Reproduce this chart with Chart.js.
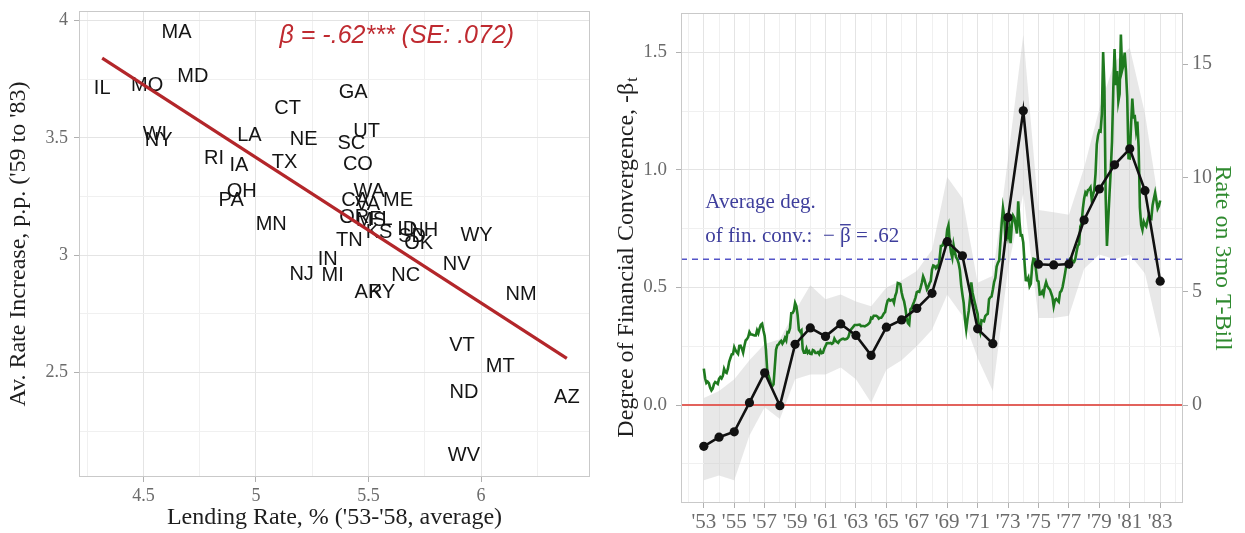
<!DOCTYPE html>
<html>
<head>
<meta charset="utf-8">
<script src="https://cdn.jsdelivr.net/npm/chart.js@4/dist/chart.umd.min.js"></script>
<style>
  html, body { margin: 0; padding: 0; background: #ffffff; }
  #wrap { position: relative; width: 1245px; height: 533px; overflow: hidden; }
  #c1 { position: absolute; left: 0; top: 0; }
  #c2 { position: absolute; left: 600px; top: 0; }
</style>
</head>
<body>
<div id="wrap">
  <canvas id="c1" width="600" height="533"></canvas>
  <canvas id="c2" width="645" height="533"></canvas>
</div>
<script>
// ---------- Left panel: state lending rates ('53-'58) vs. later rate increase ----------
const states = ['MA','IL','MO','MD','GA','CT','UT','SC','LA','NE','WI','NY','RI','IA','TX','CO','OH','PA','MN','NJ',
                'AR','KY','NM','VT','MT','ND','AZ','WV','WA','ME','CA','VA','OR','FL','MS','KS','TN','ID','NH','SD',
                'OK','WY','NV','NC','IN','MI'];
const lendingRate = [4.647,4.317,4.517,4.720,5.432,5.141,5.492,5.424,4.971,5.212,4.551,4.568,4.814,4.924,5.127,5.453,4.937,4.890,5.068,5.203,
                     5.500,5.559,6.178,5.915,6.085,5.924,6.381,5.924,5.503,5.631,5.441,5.496,5.437,5.555,5.511,5.547,5.415,5.672,5.745,5.694,
                     5.723,5.980,5.892,5.665,5.319,5.341];
const rateIncrease = [3.950,3.711,3.725,3.762,3.694,3.626,3.526,3.474,3.512,3.492,3.516,3.488,3.410,3.384,3.395,3.388,3.270,3.232,3.132,2.920,
                      2.841,2.841,2.834,2.614,2.526,2.415,2.393,2.146,3.270,3.232,3.232,3.218,3.161,3.154,3.146,3.097,3.065,3.111,3.107,3.080,
                      3.050,3.085,2.962,2.915,2.983,2.912];
// fitted OLS line, drawn over the range of lending rates
const fitX = [4.317, 6.381];
const fitY = [3.839, 2.561];
const betaNote = 'β = -.62*** (SE: .072)';

const leftXMajor = [4.5, 5, 5.5, 6];
const leftXLabels = ['4.5', '5', '5.5', '6'];
const leftXMinor = [4.25, 4.75, 5.25, 5.75, 6.25];
const leftYMajor = [2.5, 3, 3.5, 4];
const leftYLabels = ['2.5', '3', '3.5', '4'];
const leftYMinor = [2.25, 2.75, 3.25, 3.75];

// ---------- Right panel: yearly convergence coefficient and the 3-month T-bill rate ----------
const years = [1953,1954,1955,1956,1957,1958,1959,1960,1961,1962,1963,1964,1965,1966,1967,1968,
               1969,1970,1971,1972,1973,1974,1975,1976,1977,1978,1979,1980,1981,1982,1983];
const betaT  = [-0.176,-0.137,-0.114,0.010,0.137,-0.003,0.258,0.328,0.292,0.345,0.296,0.211,0.331,0.362,0.411,0.475,
                0.695,0.635,0.324,0.261,0.798,1.252,0.599,0.596,0.600,0.787,0.919,1.022,1.090,0.912,0.527];
const betaLo = [-0.32,-0.30,-0.32,-0.13,-0.01,-0.06,0.11,0.13,0.13,0.16,0.11,0.01,0.15,0.19,0.25,0.32,
                0.47,0.38,0.20,0.06,0.58,0.90,0.37,0.37,0.38,0.58,0.64,0.62,0.64,0.56,0.28];
const betaHi = [0.03,0.06,0.11,0.19,0.26,0.28,0.40,0.51,0.45,0.47,0.44,0.42,0.50,0.53,0.57,0.66,
                0.97,0.88,0.52,0.55,1.05,1.575,0.83,0.82,0.81,1.01,1.26,1.46,1.52,1.24,0.82];
const avgBeta = 0.62;

// monthly 3-month T-bill rate, %, first observation at the '53 tick
const tbillStart = 1953;
const tbill3mo = [
  1.60,
  1.18,0.97,1.03,0.96,0.76,0.64,0.72,0.92,1.01,0.98,0.93,1.15,
  1.23,1.17,1.28,1.59,1.45,1.41,1.60,1.90,2.07,2.23,2.24,2.54,
  2.41,2.32,2.25,2.60,2.61,2.49,2.31,2.60,2.84,2.90,2.99,3.21,
  3.11,3.10,3.08,3.06,3.06,3.29,3.16,3.37,3.53,3.58,3.29,3.04,
  2.44,1.53,1.30,1.13,0.91,0.83,0.91,1.69,2.44,2.63,2.67,2.77,
  2.82,2.70,2.80,2.95,2.84,3.21,3.20,3.38,4.04,4.05,4.15,4.49,
  4.35,3.96,3.31,3.23,3.29,2.46,2.30,2.30,2.48,2.30,2.37,2.25,
  2.24,2.42,2.39,2.29,2.29,2.33,2.24,2.39,2.28,2.30,2.48,2.60,
  2.72,2.73,2.72,2.73,2.69,2.73,2.92,2.82,2.78,2.74,2.83,2.87,
  2.91,2.92,2.89,2.90,2.92,2.99,3.18,3.32,3.38,3.45,3.52,3.52,
  3.52,3.53,3.54,3.47,3.48,3.48,3.46,3.50,3.53,3.57,3.64,3.84,
  3.81,3.93,3.93,3.93,3.89,3.80,3.84,3.84,3.92,4.03,4.09,4.38,
  4.59,4.65,4.59,4.62,4.64,4.50,4.80,4.96,5.37,5.35,5.32,4.96,
  4.72,4.56,4.26,3.84,3.60,3.54,4.21,4.27,4.42,4.56,4.73,4.97,
  5.00,4.98,5.17,5.38,5.66,5.52,5.31,5.09,5.19,5.35,5.45,5.96,
  6.14,6.12,6.02,6.11,6.04,6.44,7.00,7.01,7.13,7.04,7.19,7.72,
  7.91,7.16,6.71,6.48,7.04,6.74,6.50,6.41,6.24,5.93,5.29,4.86,
  4.49,3.77,3.32,3.78,4.14,4.70,5.40,4.94,4.69,4.46,4.22,4.01,
  3.38,3.20,3.73,3.71,3.69,3.91,3.98,4.02,4.66,4.74,4.78,5.07,
  5.41,5.60,6.09,6.26,6.36,7.19,8.01,8.67,8.29,7.22,7.83,7.45,
  7.77,7.12,7.96,8.33,8.23,7.90,7.55,8.96,8.06,7.46,7.47,7.15,
  6.26,5.50,5.49,5.61,5.23,5.34,6.13,6.44,6.42,5.96,5.48,5.44,
  4.87,4.88,5.00,4.86,5.20,5.41,5.23,5.14,5.08,4.92,4.75,4.35,
  4.62,4.67,4.60,4.54,4.96,5.02,5.19,5.49,5.81,6.16,6.10,6.07,
  6.44,6.45,6.29,6.29,6.41,6.73,7.01,7.08,7.85,7.99,8.64,9.08,
  9.35,9.27,9.46,9.49,9.58,9.05,9.26,9.45,10.18,11.47,11.87,12.07,
  12.04,12.81,15.53,14.00,9.15,7.00,8.13,9.26,10.32,11.58,13.89,15.66,
  14.08,14.70,13.36,13.69,16.30,14.73,14.95,15.51,14.70,13.54,10.86,10.85,
  12.28,13.48,12.68,12.70,12.09,12.47,11.35,8.68,7.92,7.71,8.07,7.94,
  7.86,8.11,8.35,8.21,8.19,8.79,9.08,9.34,9.00,8.64,8.76,9.00
];

const yearTicks  = [1953,1955,1957,1959,1961,1963,1965,1967,1969,1971,1973,1975,1977,1979,1981,1983];
const yearLabels = ["'53","'55","'57","'59","'61","'63","'65","'67","'69","'71","'73","'75","'77","'79","'81","'83"];
const yearMinor  = [1952,1954,1956,1958,1960,1962,1964,1966,1968,1970,1972,1974,1976,1978,1980,1982,1984];
const betaTicks  = [0, 0.5, 1.0, 1.5];
const betaLabels = ['0.0', '0.5', '1.0', '1.5'];
const betaMinor  = [-0.25, 0.25, 0.75, 1.25];
const rateTicks  = [0, 5, 10, 15];
const rateLabels = ['0', '5', '10', '15'];

// ---------- shared styling ----------
const SERIF = '"Liberation Serif", "Times New Roman", serif';
const SANS = '"Liberation Sans", Arial, sans-serif';
const GRID_MAJOR = '#e4e4e4';
const GRID_MINOR = '#f0f0f0';
const TICK_MARK = '#b0b0b0';
const TICK_TEXT = '#6b6b6b';

function findLabel(values, labels, v) {
  const i = values.findIndex(t => Math.abs(t - v) < 1e-9);
  return i < 0 ? '' : labels[i];
}
function isMajor(values, v) {
  return values.some(t => Math.abs(t - v) < 1e-9);
}
function tickSetter(list) {
  return scale => { scale.ticks = list.slice().sort((a, b) => a - b).map(v => ({ value: v })); };
}
// fixed axis box size, with no extra room reserved for edge labels
function fixSize(prop, size) {
  return s => {
    s[prop] = size;
    s.paddingTop = 0; s.paddingBottom = 0; s.paddingLeft = 0; s.paddingRight = 0;
  };
}
function gridFor(major) {
  return {
    color: c => (c.tick && isMajor(major, c.tick.value)) ? GRID_MAJOR : GRID_MINOR,
    lineWidth: 1,
    tickLength: 5,
    tickColor: c => (c.tick && isMajor(major, c.tick.value)) ? TICK_MARK : 'rgba(0,0,0,0)'
  };
}
function panelBorder(chart) {
  const a = chart.chartArea, ctx = chart.ctx;
  ctx.save();
  ctx.strokeStyle = '#c9c9c9';
  ctx.lineWidth = 1;
  ctx.strokeRect(Math.round(a.left) + 0.5, Math.round(a.top) + 0.5,
                 Math.round(a.right - a.left) - 1, Math.round(a.bottom - a.top) - 1);
  ctx.restore();
}

// ---------- left chart ----------
const leftPlugin = {
  id: 'leftDecor',
  beforeDatasetsDraw(chart) {
    // state abbreviations at their observations (under the fitted line)
    const ctx = chart.ctx;
    const meta = chart.getDatasetMeta(0);
    ctx.save();
    ctx.font = '20px ' + SANS;
    ctx.fillStyle = '#141414';
    ctx.textAlign = 'center';
    ctx.textBaseline = 'middle';
    meta.data.forEach((pt, i) => ctx.fillText(states[i], pt.x, pt.y));
    ctx.restore();
  },
  afterDraw(chart) {
    const ctx = chart.ctx, a = chart.chartArea;
    const sx = chart.scales.x, sy = chart.scales.y;
    panelBorder(chart);
    ctx.save();
    // slope annotation
    ctx.font = 'italic 25px ' + SANS;
    ctx.fillStyle = '#bf2a30';
    ctx.textAlign = 'center';
    ctx.textBaseline = 'middle';
    ctx.fillText(betaNote, sx.getPixelForValue(5.626), sy.getPixelForValue(3.935));
    // axis titles
    ctx.fillStyle = '#1e1e1e';
    ctx.font = '24px ' + SERIF;
    ctx.fillText("Lending Rate, % ('53-'58, average)", (a.left + a.right) / 2, 518);
    ctx.translate(19, (a.top + a.bottom) / 2);
    ctx.rotate(-Math.PI / 2);
    ctx.fillText("Av. Rate Increase, p.p. ('59 to '83)", 0, 0);
    ctx.restore();
  }
};

new Chart(document.getElementById('c1'), {
  type: 'scatter',
  data: {
    datasets: [
      {
        data: states.map((s, i) => ({ x: lendingRate[i], y: rateIncrease[i] })),
        pointRadius: 0,
        pointHoverRadius: 0,
        showLine: false
      },
      {
        type: 'line',
        data: fitX.map((x, i) => ({ x: x, y: fitY[i] })),
        borderColor: '#b3262a',
        borderWidth: 3.2,
        pointRadius: 0,
        fill: false
      }
    ]
  },
  options: {
    responsive: false,
    devicePixelRatio: 1,
    animation: false,
    events: [],
    layout: { padding: { top: 11, right: 10, left: 0, bottom: 0 } },
    plugins: { legend: { display: false }, tooltip: { enabled: false } },
    scales: {
      x: {
        type: 'linear', min: 4.214, max: 6.484,
        afterBuildTicks: tickSetter(leftXMajor.concat(leftXMinor)),
        afterFit: fixSize('height', 56),
        grid: gridFor(leftXMajor),
        border: { display: false },
        ticks: {
          autoSkip: false, maxRotation: 0, padding: 3,
          color: TICK_TEXT, font: { family: SERIF, size: 18 },
          callback: v => findLabel(leftXMajor, leftXLabels, v)
        }
      },
      y: {
        type: 'linear', min: 2.056, max: 4.040,
        afterBuildTicks: tickSetter(leftYMajor.concat(leftYMinor)),
        afterFit: fixSize('width', 79),
        grid: gridFor(leftYMajor),
        border: { display: false },
        ticks: {
          autoSkip: false, padding: 6,
          color: TICK_TEXT, font: { family: SERIF, size: 18 },
          callback: v => findLabel(leftYMajor, leftYLabels, v)
        }
      }
    }
  },
  plugins: [leftPlugin]
});

// ---------- right chart ----------
const X_MIN = 1951.5, X_MAX = 1984.5;

const rightPlugin = {
  id: 'rightDecor',
  afterDraw(chart) {
    const ctx = chart.ctx, a = chart.chartArea;
    const sx = chart.scales.x, sy = chart.scales.y;
    panelBorder(chart);
    ctx.save();
    // note on the average coefficient
    ctx.fillStyle = '#3e3e9c';
    ctx.font = '21px ' + SERIF;
    ctx.textAlign = 'left';
    ctx.textBaseline = 'middle';
    const x0 = sx.getPixelForValue(1953.1);
    const y1 = sy.getPixelForValue(0.862), y2 = sy.getPixelForValue(0.716);
    ctx.fillText('Average deg.', x0, y1);
    const partA = 'of fin. conv.:  \u2212 ';
    ctx.fillText(partA, x0, y2);
    let cx = x0 + ctx.measureText(partA).width;
    const bw = ctx.measureText('\u03b2').width;
    ctx.fillText('\u03b2', cx, y2);
    ctx.strokeStyle = '#3e3e9c';
    ctx.lineWidth = 1.4;
    ctx.beginPath();
    ctx.moveTo(cx, y2 - 12);
    ctx.lineTo(cx + bw, y2 - 12);
    ctx.stroke();
    cx += bw;
    ctx.fillText(' = .62', cx, y2);

    // left axis title with subscript t
    ctx.fillStyle = '#1e1e1e';
    const main = 'Degree of Financial Convergence, -\u03b2';
    ctx.font = '24px ' + SERIF;
    const wMain = ctx.measureText(main).width;
    ctx.font = '16px ' + SERIF;
    const wSub = ctx.measureText('t').width;
    const cy = (a.top + a.bottom) / 2;
    ctx.save();
    ctx.translate(27, cy);
    ctx.rotate(-Math.PI / 2);
    ctx.textAlign = 'left';
    ctx.textBaseline = 'middle';
    ctx.font = '24px ' + SERIF;
    const start = -(wMain + wSub) / 2;
    ctx.fillText(main, start, 0);
    ctx.font = '16px ' + SERIF;
    ctx.fillText('t', start + wMain + 1, 6);
    ctx.restore();

    // right axis title
    ctx.save();
    ctx.fillStyle = '#2f8a2f';
    ctx.font = '24px ' + SERIF;
    ctx.textAlign = 'center';
    ctx.textBaseline = 'middle';
    ctx.translate(622, cy);
    ctx.rotate(Math.PI / 2);
    ctx.fillText('Rate on 3mo T-Bill', 0, 0);
    ctx.restore();
    ctx.restore();
  }
};

new Chart(document.getElementById('c2'), {
  type: 'line',
  data: {
    datasets: [
      {
        // yearly coefficient
        data: years.map((yr, i) => ({ x: yr, y: betaT[i] })),
        borderColor: '#111111',
        backgroundColor: '#111111',
        borderWidth: 2.6,
        pointRadius: 4.6,
        pointBorderWidth: 0,
        yAxisID: 'y',
        order: 0
      },
      {
        // monthly T-bill rate on the secondary axis
        data: tbill3mo.map((r, i) => ({ x: tbillStart + i / 12, y: r })),
        borderColor: '#1f7a1f',
        borderWidth: 2.6,
        pointRadius: 0,
        yAxisID: 'y2',
        order: 1
      },
      {
        data: [{ x: X_MIN, y: avgBeta }, { x: X_MAX, y: avgBeta }],
        borderColor: '#5454c8',
        borderWidth: 1.6,
        borderDash: [6, 5],
        pointRadius: 0,
        yAxisID: 'y',
        order: 2
      },
      {
        data: [{ x: X_MIN, y: 0 }, { x: X_MAX, y: 0 }],
        borderColor: '#e2625c',
        borderWidth: 2.2,
        pointRadius: 0,
        yAxisID: 'y',
        order: 2
      },
      {
        // confidence band: lower edge
        data: years.map((yr, i) => ({ x: yr, y: betaLo[i] })),
        borderWidth: 0,
        borderColor: 'rgba(0,0,0,0)',
        pointRadius: 0,
        yAxisID: 'y',
        order: 4
      },
      {
        // confidence band: upper edge, filled down to the lower edge
        data: years.map((yr, i) => ({ x: yr, y: betaHi[i] })),
        borderWidth: 0,
        borderColor: 'rgba(0,0,0,0)',
        backgroundColor: 'rgba(200,200,200,0.42)',
        pointRadius: 0,
        fill: '-1',
        yAxisID: 'y',
        order: 3
      }
    ]
  },
  options: {
    responsive: false,
    devicePixelRatio: 1,
    animation: false,
    events: [],
    layout: { padding: { top: 13, right: 0, left: 0, bottom: 0 } },
    plugins: { legend: { display: false }, tooltip: { enabled: false } },
    scales: {
      x: {
        type: 'linear', min: X_MIN, max: X_MAX,
        afterBuildTicks: tickSetter(yearTicks.concat(yearMinor)),
        afterFit: fixSize('height', 30),
        grid: gridFor(yearTicks),
        border: { display: false },
        ticks: {
          autoSkip: false, maxRotation: 0, padding: 2,
          color: TICK_TEXT, font: { family: SERIF, size: 21 },
          callback: v => findLabel(yearTicks, yearLabels, v)
        }
      },
      y: {
        type: 'linear', position: 'left', min: -0.417, max: 1.668,
        afterBuildTicks: tickSetter(betaTicks.concat(betaMinor)),
        afterFit: fixSize('width', 81),
        grid: gridFor(betaTicks),
        border: { display: false },
        ticks: {
          autoSkip: false, padding: 9,
          color: TICK_TEXT, font: { family: SERIF, size: 19 },
          callback: v => findLabel(betaTicks, betaLabels, v)
        }
      },
      y2: {
        // secondary rate axis, about 10.34 rate points per unit of the coefficient
        type: 'linear', position: 'right', min: -4.31, max: 17.25,
        afterBuildTicks: tickSetter(rateTicks),
        afterFit: fixSize('width', 62),
        grid: { drawOnChartArea: false, drawTicks: true, tickLength: 5, tickColor: TICK_MARK },
        border: { display: false },
        ticks: {
          autoSkip: false, padding: 4,
          color: TICK_TEXT, font: { family: SERIF, size: 20 },
          callback: v => findLabel(rateTicks, rateLabels, v)
        }
      }
    }
  },
  plugins: [rightPlugin]
});
</script>
</body>
</html>
